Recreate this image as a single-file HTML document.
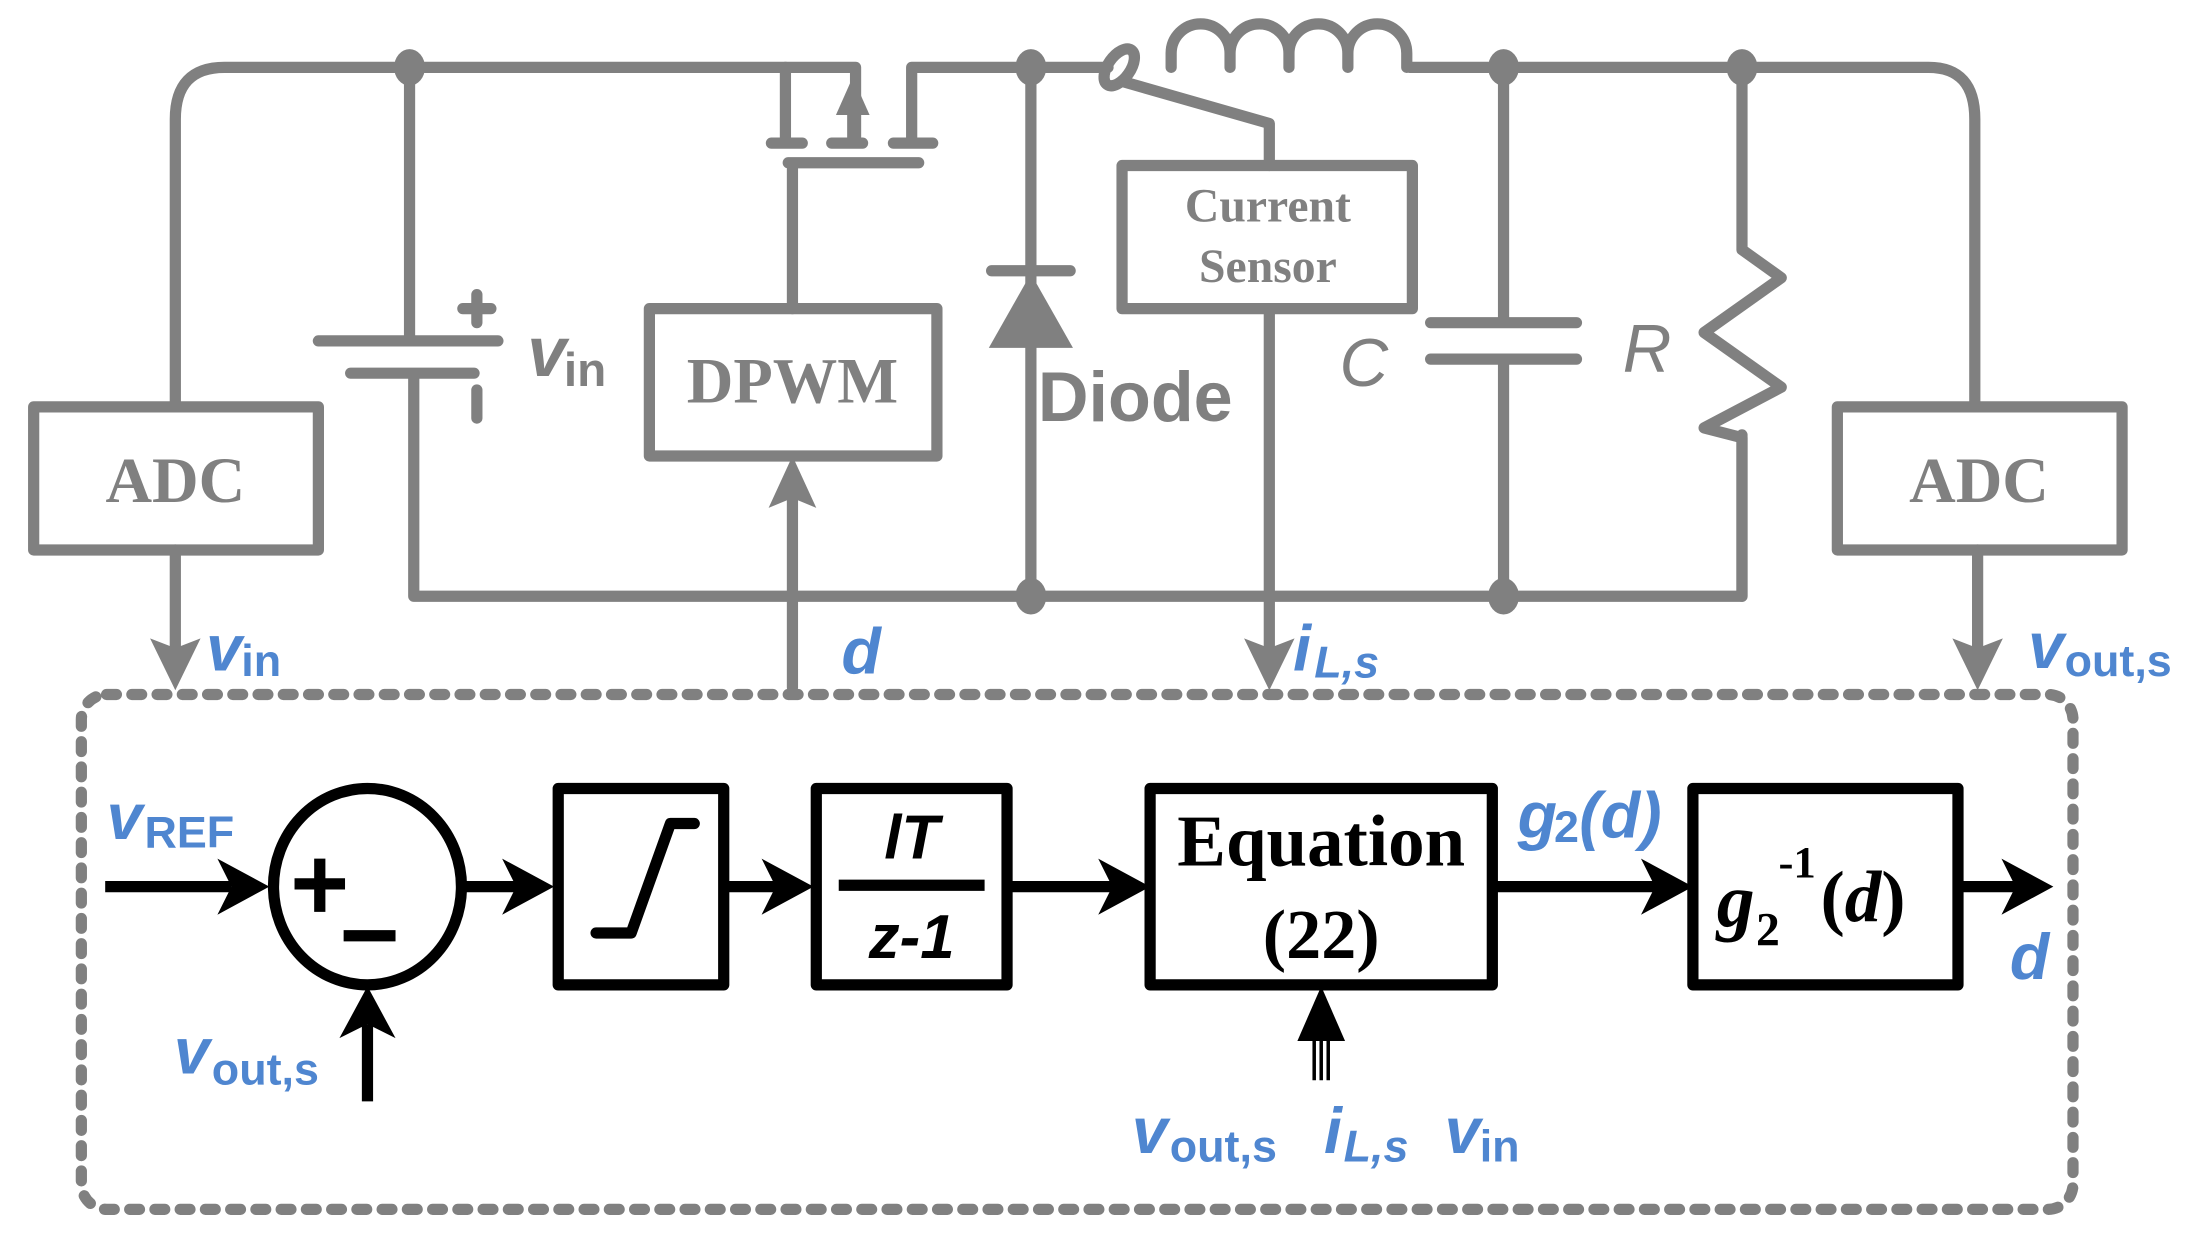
<!DOCTYPE html>
<html><head><meta charset="utf-8"><style>
html,body{margin:0;padding:0;background:#fff}
svg{display:block}
.g{stroke:#808080;stroke-width:8;fill:none;stroke-linecap:round;stroke-linejoin:round}
.k{stroke:#000;stroke-width:8;fill:none;stroke-linejoin:round}
.bl{fill:#4f86d0;font-family:"Liberation Sans",sans-serif;font-weight:bold}
.sr{font-family:"Liberation Serif",serif}
</style></head><body>
<svg width="2188" height="1236" viewBox="0 0 1560 881" preserveAspectRatio="none" xmlns="http://www.w3.org/2000/svg">
<path class="g" d="M125 290 V85 Q125 48 160 48 H610 V100"/>
<path class="g" d="M560 48 V100"/>
<path class="g" d="M650 100 V48 H790"/>
<path class="g" d="M1005 48 H1375 Q1408 48 1408 85 V290"/>
<path class="g" d="M550 102 H572 M593 102 H615 M637 102 H665 M562 116 H655 M565 116 V220"/>
<path class="g" d="M608 100 V80"/>
<polygon points="608,55 596,82 620,82" fill="#808080"/>
<g fill="#808080">
<ellipse cx="292" cy="48" rx="11" ry="13"/>
<ellipse cx="735" cy="48" rx="11" ry="13"/>
<ellipse cx="1072" cy="48" rx="11" ry="13"/>
<ellipse cx="1242" cy="48" rx="11" ry="13"/>
<ellipse cx="735" cy="425" rx="11" ry="13"/>
<ellipse cx="1072" cy="425" rx="11" ry="13"/>
</g>
<path class="g" d="M292 48 V243 M227 243 H355 M250 266 H338 M295 266 V425 H1242 V310"/>
<path class="g" d="M340 210 V230 M330 220 H350 M340 278 V298"/>
<text x="376" y="268" font-family="Liberation Sans,sans-serif" font-style="italic" font-weight="bold" font-size="50" fill="#808080">v</text>
<text x="402" y="275" font-family="Liberation Sans,sans-serif" font-weight="bold" font-size="34" fill="#808080">in</text>
<rect class="g" x="463" y="220" width="205" height="105"/>
<text x="565" y="287" text-anchor="middle" class="sr" font-size="46" font-weight="bold" fill="#808080">DPWM</text>
<path class="g" d="M565 490 V350"/>
<polygon points="565,325 548,362 565,355 582,362" fill="#808080"/>
<path class="g" d="M735 48 V425 M707 193 H763"/>
<polygon points="735,195 705,248 765,248" fill="#808080"/>
<text x="740" y="300" font-family="Liberation Sans,sans-serif" font-size="50" fill="#808080" font-weight="bold">Diode</text>
<ellipse cx="798" cy="48" rx="8" ry="15" transform="rotate(35 798 48)" class="g" stroke-width="7"/>
<path class="g" d="M800 58 L905 88 V118"/>
<rect class="g" x="800" y="118" width="207" height="102"/>
<text x="904" y="158" text-anchor="middle" class="sr" font-size="34" font-weight="bold" fill="#808080">Current</text>
<text x="904" y="201" text-anchor="middle" class="sr" font-size="34" font-weight="bold" fill="#808080">Sensor</text>
<path class="g" d="M905 220 V470"/>
<polygon points="905,492 887,455 905,462 923,455" fill="#808080"/>
<path class="g" d="M835 48 V38 A21 21 0 0 1 877 38 V48 M877 38 A21 21 0 0 1 919 38 V48 M919 38 A21 21 0 0 1 961 38 V48 M961 38 A21 21 0 0 1 1003 38 V48"/>
<path class="g" d="M1072 48 V230 M1020 230 H1124 M1020 256 H1124 M1072 256 V425"/>
<text x="955" y="275" font-family="Liberation Sans,sans-serif" font-style="italic" font-size="48" fill="#808080">C</text>
<path class="g" d="M1242 48 V178 L1270 198 L1215 237 L1270 276 L1215 305 L1242 312 V425"/>
<text x="1157" y="265" font-family="Liberation Sans,sans-serif" font-style="italic" font-size="48" fill="#808080">R</text>
<rect class="g" x="24" y="290" width="203" height="102"/>
<text x="125" y="358" text-anchor="middle" class="sr" font-size="46" font-weight="bold" fill="#808080">ADC</text>
<path class="g" d="M125 392 V470"/>
<polygon points="125,492 107,455 125,462 143,455" fill="#808080"/>
<rect class="g" x="1310" y="290" width="203" height="102"/>
<text x="1411" y="358" text-anchor="middle" class="sr" font-size="46" font-weight="bold" fill="#808080">ADC</text>
<path class="g" d="M1410 392 V470"/>
<polygon points="1410,492 1392,455 1410,462 1428,455" fill="#808080"/>
<text class="bl" x="147" y="478" font-size="46" font-style="italic">v</text><text class="bl" x="172" y="482" font-size="32">in</text>
<text class="bl" x="600" y="480" font-size="46" font-style="italic">d</text>
<text class="bl" x="922" y="478" font-size="46" font-style="italic">i</text><text class="bl" x="937" y="483" font-size="32" font-style="italic">L,s</text>
<text class="bl" x="1446" y="476" font-size="46" font-style="italic">v</text><text class="bl" x="1472" y="482" font-size="32">out,s</text>
<rect x="58" y="495" width="1420" height="367" rx="18" fill="none" stroke="#808080" stroke-width="8" stroke-dasharray="7 11" stroke-linecap="round"/>
<path class="k" d="M75 632 H165"/>
<polygon points="192,632 155,612 165,632 155,652"/>
<ellipse class="k" cx="262" cy="632" rx="67" ry="70"/>
<path class="k" d="M210 630 H246 M228 612 V650 M245 667 H282" stroke-width="9"/>
<path class="k" d="M262 785 V730"/>
<polygon points="262,703 242,740 262,730 282,740"/>
<path class="k" d="M330 632 H370"/>
<polygon points="395,632 358,612 368,632 358,652"/>
<rect class="k" x="398" y="562" width="118" height="140"/>
<path class="k" d="M425 665 H450 L478 587 H495" stroke-width="9" stroke-linecap="round"/>
<path class="k" d="M516 632 H555"/>
<polygon points="580,632 543,612 553,632 543,652"/>
<rect class="k" x="582" y="562" width="136" height="140"/>
<text x="650" y="612" text-anchor="middle" font-family="Liberation Sans,sans-serif" font-weight="bold" font-style="italic" font-size="44">lT</text>
<path class="k" d="M598 631 H702" stroke-width="7"/>
<text x="650" y="683" text-anchor="middle" font-family="Liberation Sans,sans-serif" font-weight="bold" font-style="italic" font-size="44">z-1</text>
<path class="k" d="M718 632 H795"/>
<polygon points="820,632 783,612 793,632 783,652"/>
<rect class="k" x="820" y="562" width="244" height="140"/>
<text x="942" y="617" text-anchor="middle" class="sr" font-weight="bold" font-size="52">Equation</text>
<text x="942" y="683" text-anchor="middle" class="sr" font-weight="bold" font-size="50">(22)</text>
<path class="k" d="M1064 632 H1180"/>
<polygon points="1207,632 1170,612 1180,632 1170,652"/>
<text class="bl" x="1082" y="597" font-size="46" font-style="italic">g</text><text class="bl" x="1108" y="600" font-size="32">2</text><text class="bl" x="1126" y="597" font-size="46" font-style="italic">(d)</text>
<rect class="k" x="1207" y="562" width="189" height="140"/>
<text x="1224" y="660" class="sr" font-weight="bold" font-style="italic" font-size="54">g</text>
<text x="1252" y="674" class="sr" font-weight="bold" font-size="34">2</text>
<text x="1268" y="625" class="sr" font-weight="bold" font-size="32">-1</text>
<text x="1298" y="657" class="sr" font-weight="bold" font-size="52">(<tspan font-style="italic">d</tspan>)</text>
<path class="k" d="M1396 632 H1440"/>
<polygon points="1464,632 1427,612 1437,632 1427,652"/>
<text class="bl" x="1433" y="698" font-size="46" font-style="italic">d</text>
<path d="M937 770 V730 M942 770 V730 M947 770 V730" stroke="#000" stroke-width="2.5"/>
<polygon points="942,703 925,742 959,742"/>
<text class="bl" x="76" y="598" font-size="46" font-style="italic">v</text><text class="bl" x="103" y="604" font-size="32">REF</text>
<text class="bl" x="124" y="765" font-size="46" font-style="italic">v</text><text class="bl" x="151" y="773" font-size="32">out,s</text>
<text class="bl" x="807" y="822" font-size="46" font-style="italic">v</text><text class="bl" x="834" y="828" font-size="32">out,s</text>
<text class="bl" x="944" y="822" font-size="46" font-style="italic">i</text><text class="bl" x="958" y="828" font-size="32" font-style="italic">L,s</text>
<text class="bl" x="1030" y="822" font-size="46" font-style="italic">v</text><text class="bl" x="1055" y="828" font-size="32">in</text>
</svg>
</body></html>
